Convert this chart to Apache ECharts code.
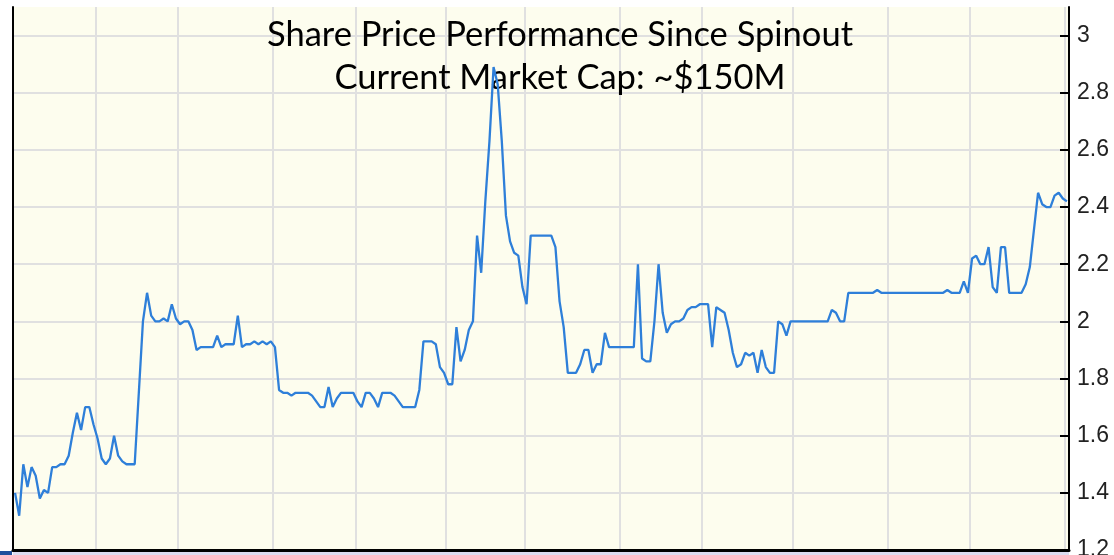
<!DOCTYPE html>
<html>
<head>
<meta charset="utf-8">
<title>Share Price Performance Since Spinout</title>
<script src="https://cdn.jsdelivr.net/npm/echarts@6/dist/echarts.min.js"></script>
<style>
  html, body { margin: 0; padding: 0; background: #fff; }
  #echarts { width: 1114px; height: 555px; }
</style>
</head>
<body>
<div id="echarts"></div>
<script>
// trading days per month (first and last month partial)
const months = ['Jul', 'Aug', 'Sep', 'Oct', 'Nov', 'Dec', 'Jan', 'Feb', 'Mar', 'Apr', 'May', 'Jun', 'Jul'];
const tradingDays = [20, 20, 23, 20, 22, 19, 23, 20, 22, 23, 20, 23, 1];

// daily close
const prices = [
  1.40, 1.32, 1.50, 1.42, 1.49, 1.46, 1.38, 1.41, 1.40, 1.49,
  1.49, 1.50, 1.50, 1.53, 1.61, 1.68, 1.62, 1.70, 1.70, 1.64,
  1.59, 1.52, 1.50, 1.52, 1.60, 1.53, 1.51, 1.50, 1.50, 1.50,
  1.75, 2.00, 2.10, 2.02, 2.00, 2.00, 2.01, 2.00, 2.06, 2.01,
  1.99, 2.00, 2.00, 1.97, 1.90, 1.91, 1.91, 1.91, 1.91, 1.95,
  1.91, 1.92, 1.92, 1.92, 2.02, 1.91, 1.92, 1.92, 1.93, 1.92,
  1.93, 1.92, 1.93, 1.91, 1.76, 1.75, 1.75, 1.74, 1.75, 1.75,
  1.75, 1.75, 1.74, 1.72, 1.70, 1.70, 1.77, 1.70, 1.73, 1.75,
  1.75, 1.75, 1.75, 1.72, 1.70, 1.75, 1.75, 1.73, 1.70, 1.75,
  1.75, 1.75, 1.74, 1.72, 1.70, 1.70, 1.70, 1.70, 1.76, 1.93,
  1.93, 1.93, 1.92, 1.84, 1.82, 1.78, 1.78, 1.98, 1.86, 1.90,
  1.97, 2.00, 2.30, 2.17, 2.42, 2.63, 2.89, 2.83, 2.63, 2.37,
  2.28, 2.24, 2.23, 2.12, 2.06, 2.30, 2.30, 2.30, 2.30, 2.30,
  2.30, 2.26, 2.07, 1.98, 1.82, 1.82, 1.82, 1.85, 1.90, 1.90,
  1.82, 1.85, 1.85, 1.96, 1.91, 1.91, 1.91, 1.91, 1.91, 1.91,
  1.91, 2.20, 1.87, 1.86, 1.86, 2.00, 2.20, 2.03, 1.96, 1.99,
  2.00, 2.00, 2.01, 2.04, 2.05, 2.05, 2.06, 2.06, 2.06, 1.91,
  2.05, 2.04, 2.03, 1.97, 1.89, 1.84, 1.85, 1.89, 1.88, 1.89,
  1.82, 1.90, 1.84, 1.82, 1.82, 2.00, 1.99, 1.95, 2.00, 2.00,
  2.00, 2.00, 2.00, 2.00, 2.00, 2.00, 2.00, 2.00, 2.04, 2.03,
  2.00, 2.00, 2.10, 2.10, 2.10, 2.10, 2.10, 2.10, 2.10, 2.11,
  2.10, 2.10, 2.10, 2.10, 2.10, 2.10, 2.10, 2.10, 2.10, 2.10,
  2.10, 2.10, 2.10, 2.10, 2.10, 2.10, 2.11, 2.10, 2.10, 2.10,
  2.14, 2.10, 2.22, 2.23, 2.20, 2.20, 2.26, 2.12, 2.10, 2.26,
  2.26, 2.10, 2.10, 2.10, 2.10, 2.13, 2.19, 2.32, 2.45, 2.41,
  2.40, 2.40, 2.44, 2.45, 2.43, 2.42
];

const titleLines = ['Share Price Performance Since Spinout', 'Current Market Cap: ~$150M'];
const yTicks = { min: 1.2, max: 3.1, step: 0.2 };

// build day categories + month start indexes
const days = [];
const monthStarts = new Set();
tradingDays.forEach((n, m) => {
  if (m > 0) monthStarts.add(days.length);
  for (let d = 1; d <= n; d++) days.push(months[m] + ' ' + d);
});

const gridLine = '#e0e0e0';
// one colour per y split line, the last one (max) hidden
const ySplitColors = [];
for (let v = yTicks.min; v < yTicks.max - 0.01; v += yTicks.step) ySplitColors.push(gridLine);
ySplitColors.push('rgba(0,0,0,0)');

const myChart = echarts.init(document.getElementById('echarts'), null, { renderer: 'canvas' });
const option = {
  backgroundColor: '#ffffff',
  animation: false,
  title: {
    text: titleLines.join('\n'),
    left: 560,
    top: 13,
    padding: 0,
    z: 1,
    textAlign: 'center',
    textStyle: {
      fontFamily: 'Lato',
      fontSize: 34.5,
      fontWeight: 'normal',
      color: '#000',
      lineHeight: 43,
    },
  },
  grid: {
    left: 13,
    right: 45,
    top: 7,
    bottom: 5,
    show: true,
    backgroundColor: '#fdfdee',
    borderWidth: 0,
    containLabel: false,
    outerBoundsMode: 'none',
  },
  // thin strip under the frame, as in the source screenshot
  graphic: [
    { type: 'rect', shape: { x: 13, y: 552, width: 1056, height: 3 }, style: { fill: '#dcdcf0' }, silent: true },
    { type: 'rect', shape: { x: 0, y: 551, width: 12, height: 4 }, style: { fill: '#1f4f9c' }, silent: true },
  ],
  xAxis: {
    type: 'category',
    data: days,
    boundaryGap: true,
    axisLine: { lineStyle: { color: '#000', width: 3 } },
    axisTick: { show: false },
    axisLabel: { show: false },
    splitLine: {
      show: true,
      interval: (idx) => monthStarts.has(idx),
      lineStyle: { color: gridLine, width: 2 },
    },
  },
  yAxis: [
    {
      type: 'value',
      position: 'right',
      min: yTicks.min,
      max: yTicks.max,
      interval: yTicks.step,
      axisLine: { show: true, lineStyle: { color: '#000', width: 2 } },
      axisTick: { show: true, inside: true, length: 9, lineStyle: { color: '#000', width: 2 } },
      axisLabel: {
        showMaxLabel: false,
        margin: 8,
        fontFamily: 'Liberation Sans',
        fontSize: 23,
        color: '#222',
        formatter: (v) => String(Math.round(v * 10) / 10),
      },
      splitLine: { show: true, lineStyle: { color: ySplitColors, width: 2 } },
    },
    {
      // plain black frame line on the left
      type: 'value',
      position: 'left',
      min: yTicks.min,
      max: yTicks.max,
      interval: yTicks.step,
      axisLine: { show: true, lineStyle: { color: '#000', width: 2 } },
      axisTick: { show: false },
      axisLabel: { show: false },
      splitLine: { show: false },
    },
  ],
  series: [
    {
      name: 'Share price',
      type: 'line',
      z: 10,
      data: prices,
      showSymbol: false,
      symbol: 'none',
      smooth: false,
      lineStyle: { color: '#2e7fd9', width: 2.3 },
      itemStyle: { color: '#2e7fd9' },
    },
  ],
};
myChart.setOption(option);
</script>
</body>
</html>
